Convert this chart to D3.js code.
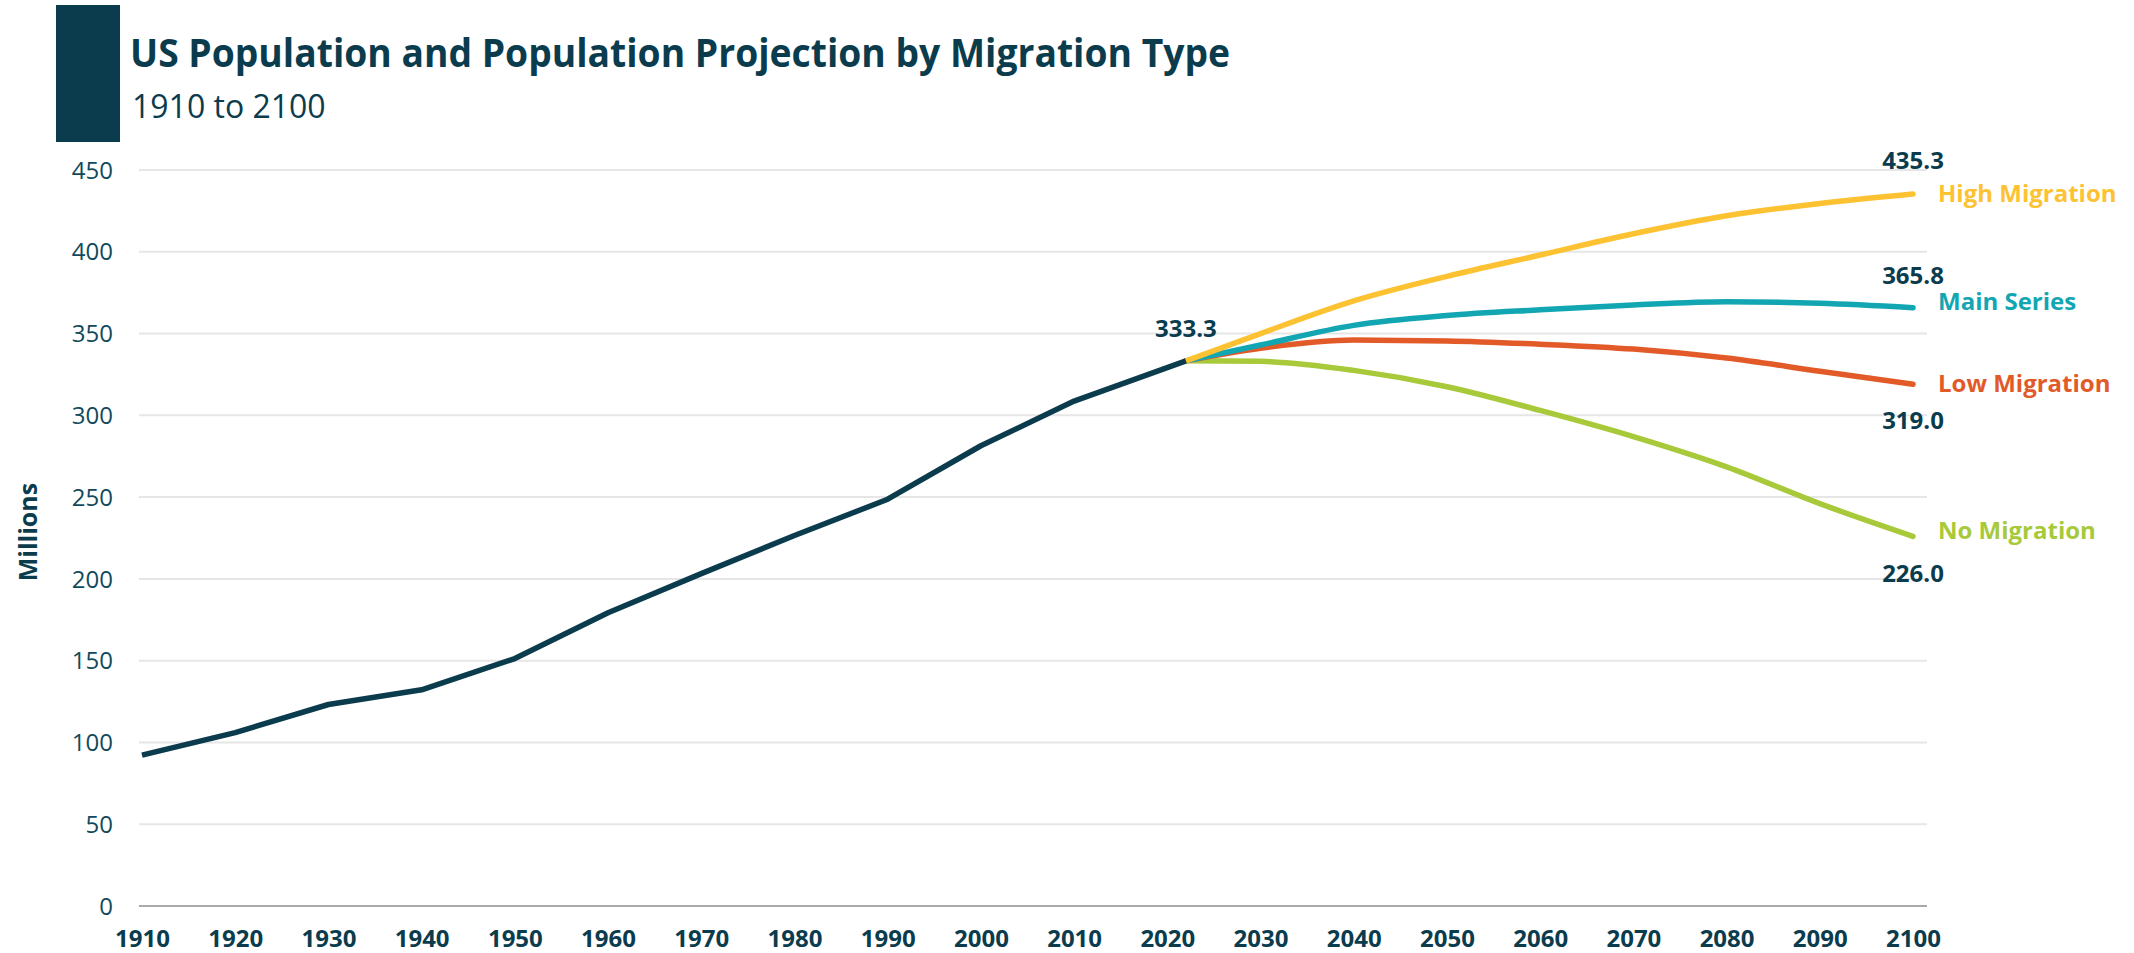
<!DOCTYPE html>
<html>
<head>
<meta charset="utf-8">
<script src="https://cdn.jsdelivr.net/npm/d3@7"></script>
<style>
  html, body { margin: 0; padding: 0; background: #fff; }
  svg { display: block; font-family: "Open Sans", "Noto Sans", sans-serif; }
</style>
</head>
<body>
<svg id="chart" width="2134" height="953"></svg>
<script>
// ---------- data ----------
const histYears = [1910, 1920, 1930, 1940, 1950, 1960, 1970, 1980, 1990, 2000, 2010, 2022];
const histValues = [92.2, 106.0, 123.2, 132.2, 151.3, 179.3, 203.2, 226.5, 248.7, 281.4, 308.7, 333.3];

const projYears = [2022, 2030, 2040, 2050, 2060, 2070, 2080, 2090, 2100];
const highMigration = [333.3, 350.0, 370.0, 385.0, 398.0, 411.0, 422.0, 429.5, 435.3];
const mainSeries    = [333.3, 343.0, 355.0, 361.0, 364.5, 367.5, 369.5, 368.5, 365.8];
const lowMigration  = [333.3, 341.0, 346.0, 345.5, 343.5, 340.5, 335.0, 327.0, 319.0];
const noMigration   = [333.3, 333.0, 327.5, 317.5, 303.0, 287.0, 268.5, 246.0, 226.0];

const seriesNames = ["High Migration", "Main Series", "Low Migration", "No Migration"];
const endLabels = ["435.3", "365.8", "319.0", "226.0"];
const startLabel = "333.3";

const xTicks = d3.range(1910, 2101, 10);
const yTicks = d3.range(0, 451, 50);

// ---------- styles ----------
const dark = "#0b3c4d";
const colors = ["#fdc232", "#12a6b3", "#e25a28", "#a8c93a"];
const nameDy = [0, -6, -1, -6];       // vertical nudge of series names
const valueDy = [-25, -24, 45, 46];   // value label baseline offset from line end

const svg = d3.select("#chart");

const x = d3.scaleLinear().domain([1910, 2100]).range([142, 1913]);
const y = d3.scaleLinear().domain([0, 450]).range([906, 170]);

// header block
svg.append("rect").attr("x", 56).attr("y", 5).attr("width", 64).attr("height", 137).attr("fill", dark);
svg.append("text").attr("x", 130).attr("y", 67)
  .attr("font-size", 39).attr("font-weight", 700).attr("fill", dark)
  .attr("textLength", 1100).attr("lengthAdjust", "spacingAndGlyphs")
  .text("US Population and Population Projection by Migration Type");
svg.append("text").attr("x", 132).attr("y", 118)
  .attr("font-size", 32).attr("font-weight", 400).attr("fill", dark)
  .text("1910 to 2100");

// gridlines
svg.append("g").selectAll("line").data(yTicks).join("line")
  .attr("x1", 139).attr("x2", 1927)
  .attr("y1", d => y(d)).attr("y2", d => y(d))
  .attr("stroke", d => d === 0 ? "#aaaaaa" : "#e6e6e6")
  .attr("stroke-width", 2);

// y axis labels
const yAxis = d3.axisLeft(y).tickValues(yTicks).tickSize(0).tickPadding(0);
const gy = svg.append("g").attr("transform", "translate(113,0)").call(yAxis);
gy.select(".domain").remove();
gy.selectAll("text").attr("font-size", 24).attr("font-family", "'Open Sans', sans-serif")
  .attr("fill", "#114a5c").attr("dy", "0.34em");

// x axis labels
const xAxis = d3.axisBottom(x).tickValues(xTicks).tickFormat(d3.format("d")).tickSize(0).tickPadding(0);
const gx = svg.append("g").attr("transform", "translate(0,930)").call(xAxis);
gx.select(".domain").remove();
gx.selectAll("text").attr("font-size", 24).attr("font-weight", 700)
  .attr("font-family", "'Open Sans', sans-serif").attr("fill", dark).attr("dy", "0.72em");

// y axis title
svg.append("text")
  .attr("transform", "translate(37,532) rotate(-90)")
  .attr("text-anchor", "middle")
  .attr("font-size", 25).attr("font-weight", 700).attr("fill", dark)
  .text("Millions");

// projection lines
const projSets = [highMigration, mainSeries, lowMigration, noMigration];
const projLine = d3.line().x(d => x(d[0])).y(d => y(d[1])).curve(d3.curveMonotoneX);
projSets.slice().reverse().forEach((vals, ri) => {
  const i = projSets.length - 1 - ri;
  svg.append("path")
    .attr("d", projLine(projYears.map((yr, k) => [yr, vals[k]])))
    .attr("fill", "none").attr("stroke", colors[i]).attr("stroke-width", 5.5)
    .attr("stroke-linecap", "round").attr("stroke-linejoin", "round");
});

// historical line
const histLine = d3.line().x(d => x(d[0])).y(d => y(d[1]));
svg.append("path")
  .attr("d", histLine(histYears.map((yr, k) => [yr, histValues[k]])))
  .attr("fill", "none").attr("stroke", dark).attr("stroke-width", 5.5)
  .attr("stroke-linejoin", "round");

// start label
const lastYear = histYears[histYears.length - 1];
const lastVal = histValues[histValues.length - 1];
svg.append("text").attr("x", x(lastYear)).attr("y", y(lastVal) - 24)
  .attr("text-anchor", "middle").attr("font-size", 24).attr("font-weight", 700)
  .attr("fill", dark).text(startLabel);

// end labels
projSets.forEach((vals, i) => {
  const ex = x(projYears[projYears.length - 1]);
  const ey = y(vals[vals.length - 1]);
  svg.append("text").attr("x", ex + 25).attr("y", ey + nameDy[i]).attr("dy", "0.35em")
    .attr("font-size", 24).attr("font-weight", 700).attr("fill", colors[i])
    .text(seriesNames[i]);
  svg.append("text").attr("x", ex).attr("y", ey + valueDy[i])
    .attr("text-anchor", "middle").attr("font-size", 24).attr("font-weight", 700)
    .attr("fill", dark).text(endLabels[i]);
});
</script>
</body>
</html>
